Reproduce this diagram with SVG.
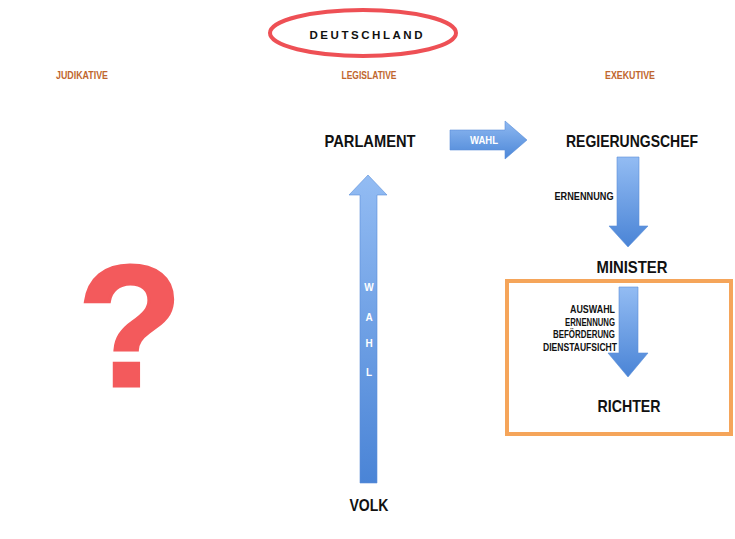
<svg xmlns="http://www.w3.org/2000/svg" width="735" height="539" viewBox="0 0 735 539">
<defs>
<linearGradient id="gv" x1="0" y1="0" x2="0" y2="1">
<stop offset="0" stop-color="#93bcf3"/>
<stop offset="1" stop-color="#4a84d6"/>
</linearGradient>
<linearGradient id="gh" x1="0" y1="0" x2="0" y2="1">
<stop offset="0" stop-color="#8fb9f1"/>
<stop offset="1" stop-color="#4c87d8"/>
</linearGradient>
<style>
text{font-family:"Liberation Sans",Arial,sans-serif;font-weight:bold}
.big{font-size:16.5px;fill:#111}
.sec{font-size:10px;fill:#c0662e}
.lab{font-size:10px;fill:#111}
.wh{font-size:10px;fill:#fff}
.arr{stroke:#5a8fd8;stroke-width:0.6}
</style>
</defs>
<rect width="735" height="539" fill="#fff"/>
<g id="title">
<ellipse cx="363" cy="33" rx="93" ry="23" fill="#fff" stroke="#ee5055" stroke-width="4"/>
<text x="368" y="38.5" text-anchor="middle" font-size="11.5" fill="#111" textLength="117" lengthAdjust="spacing" style="letter-spacing:4px">DEUTSCHLAND</text>
</g>
<g id="headers">
<text class="sec" x="82" y="79" text-anchor="middle" textLength="52" lengthAdjust="spacingAndGlyphs">JUDIKATIVE</text>
<text class="sec" x="369" y="79" text-anchor="middle" textLength="55" lengthAdjust="spacingAndGlyphs">LEGISLATIVE</text>
<text class="sec" x="630" y="79" text-anchor="middle" textLength="50" lengthAdjust="spacingAndGlyphs">EXEKUTIVE</text>
</g>
<g id="judikative">
<text x="130" y="386" text-anchor="middle" font-size="172" fill="#f35a5c" stroke="#f35a5c" stroke-width="3">?</text>
</g>
<g id="parlament"><text class="big" x="370" y="147" text-anchor="middle" textLength="91" lengthAdjust="spacingAndGlyphs">PARLAMENT</text></g>
<g id="regierungschef"><text class="big" x="632" y="147" text-anchor="middle" textLength="132" lengthAdjust="spacingAndGlyphs">REGIERUNGSCHEF</text></g>
<g id="minister"><text class="big" x="632" y="273" text-anchor="middle" textLength="71" lengthAdjust="spacingAndGlyphs">MINISTER</text></g>
<g id="richter-box">
<rect x="507" y="281" width="224" height="153" fill="none" stroke="#f5a55a" stroke-width="4"/>
</g>
<g id="richter"><text class="big" x="629" y="412" text-anchor="middle" textLength="63" lengthAdjust="spacingAndGlyphs">RICHTER</text></g>
<g id="volk"><text class="big" x="369" y="511" text-anchor="middle" textLength="39" lengthAdjust="spacingAndGlyphs">VOLK</text></g>
<g id="connectors">
<path class="arr" d="M450 130 H505 V121 L527 140 L505 159 V150 H450 Z" fill="url(#gh)"/>
<text class="wh" x="484" y="144" text-anchor="middle" textLength="28" lengthAdjust="spacingAndGlyphs">WAHL</text>
<path class="arr" d="M360 483 V195 H349 L368 175 L387 195 H377 V483 Z" fill="url(#gv)"/>
<text class="wh" x="369" y="291" text-anchor="middle">W</text>
<text class="wh" x="369" y="321" text-anchor="middle">A</text>
<text class="wh" x="369" y="347" text-anchor="middle">H</text>
<text class="wh" x="369" y="376" text-anchor="middle">L</text>
<path class="arr" d="M617 157 H639 V226 H648 L628 247 L609 226 H617 Z" fill="url(#gv)"/>
<text class="lab" x="584" y="200" text-anchor="middle" textLength="59" lengthAdjust="spacingAndGlyphs">ERNENNUNG</text>
<path class="arr" d="M619 287 H638 V353 H648 L628 377 L608 353 H619 Z" fill="url(#gv)"/>
<text class="lab" x="615" y="313" text-anchor="end" textLength="45" lengthAdjust="spacingAndGlyphs">AUSWAHL</text>
<text class="lab" x="615" y="325.5" text-anchor="end" textLength="50" lengthAdjust="spacingAndGlyphs">ERNENNUNG</text>
<text class="lab" x="615" y="338" text-anchor="end" textLength="62" lengthAdjust="spacingAndGlyphs">BEFÖRDERUNG</text>
<text class="lab" x="617" y="350.5" text-anchor="end" textLength="74" lengthAdjust="spacingAndGlyphs">DIENSTAUFSICHT</text>
</g>
</svg>
